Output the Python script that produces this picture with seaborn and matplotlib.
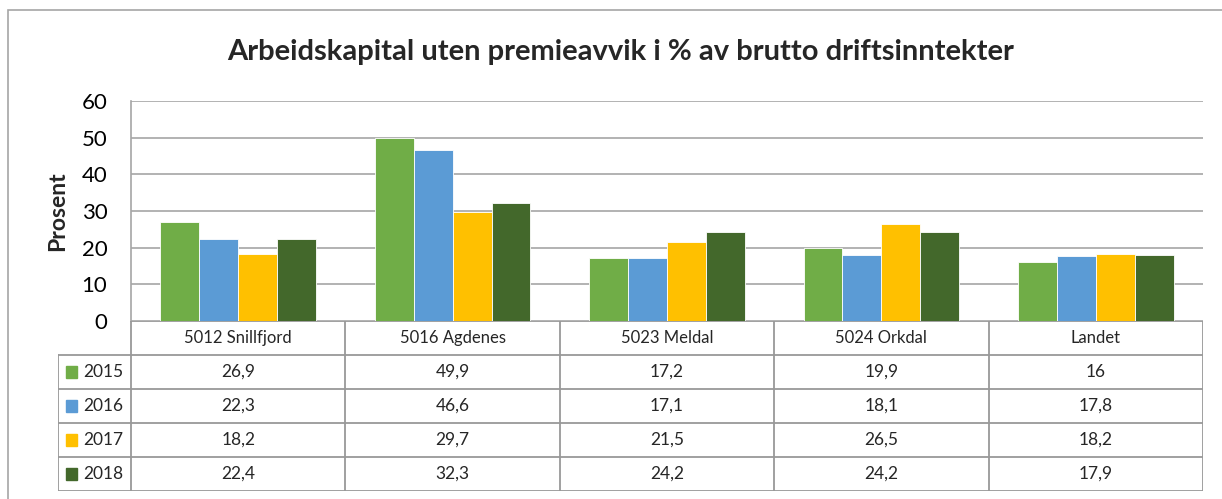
import pandas as pd
import seaborn as sns
import matplotlib.pyplot as plt
from matplotlib.patches import Rectangle

#%% data

kommuner = ['5012 Snillfjord', '5016 Agdenes', '5023 Meldal', '5024 Orkdal', 'Landet']
aar = ['2015', '2016', '2017', '2018']
v2015 = [26.9, 49.9, 17.2, 19.9, 16]
v2016 = [22.3, 46.6, 17.1, 18.1, 17.8]
v2017 = [18.2, 29.7, 21.5, 26.5, 18.2]
v2018 = [22.4, 32.3, 24.2, 24.2, 17.9]
farger = ['#70AD47', '#5B9BD5', '#FFC000', '#43682B']

verdier = [v2015, v2016, v2017, v2018]
rows = []
for a, vals in zip(aar, verdier):
    for k, v in zip(kommuner, vals):
        rows.append({'kommune': k, 'aar': a, 'prosent': v})
df = pd.DataFrame(rows)

#%% plot

sns.set_theme(style='white')
plt.rcParams['font.family'] = ['Lato', 'DejaVu Sans']

W, H = 1222, 499
grey = '#A6A6A6'
fig = plt.figure(figsize=(W / 100, H / 100), dpi=100)


def box(x0, y0, x1, y1):
    # pixel box -> figure fraction
    return [x0 / W, 1 - y1 / H, (x1 - x0) / W, (y1 - y0) / H]


ax = fig.add_axes(box(131, 101, 1203, 321))
sns.barplot(data=df, x='kommune', y='prosent', hue='aar', palette=farger,
            width=0.726, saturation=1, edgecolor='white', linewidth=0.6,
            legend=False, ax=ax)
ax.set_xlim(-0.5, 4.5)
ax.set_ylim(0, 60)
ax.set_yticks(range(0, 61, 10))
ax.set_xticks([])
ax.set_xlabel('')
ax.set_ylabel('')
ax.grid(axis='y', color=grey, lw=1.2)
ax.set_axisbelow(True)
for s in ['top', 'right', 'bottom']:
    ax.spines[s].set_visible(False)
ax.spines['left'].set_color(grey)
ax.spines['left'].set_linewidth(1.2)
ax.tick_params(axis='y', length=0, pad=17, labelsize=16, labelcolor='black')

fig.text(58 / W, 1 - 211 / H, 'Prosent', rotation=90, ha='center', va='center',
         fontsize=16.5, fontweight='bold')
fig.text(621 / W, 1 - 60 / H, 'Arbeidskapital uten premieavvik i % av brutto driftsinntekter',
         ha='center', va='baseline', fontsize=21, fontweight='bold')

# data table under the chart
unit = 1072 / 5
left = -0.5 - 73 / unit
tab = fig.add_axes(box(58, 321, 1203, 491))
tab.set_xlim(left, 4.5)
tab.set_ylim(5, 0)
tab.axis('off')
lc = '#999999'
tab.plot([-0.5, 4.5], [0, 0], color=lc, lw=1.3)
for r in range(1, 6):
    tab.plot([left, 4.5], [r, r], color=lc, lw=1.3)
for i in range(6):
    tab.plot([i - 0.5, i - 0.5], [0, 5], color=lc, lw=1.3)
tab.plot([left, left], [1, 5], color=lc, lw=1.3)

for i, k in enumerate(kommuner):
    tab.text(i, 0.5, k, ha='center', va='center', fontsize=12)
for r, (a, vals, c) in enumerate(zip(aar, verdier, farger)):
    y = r + 1.5
    tab.add_patch(Rectangle((left + 8 / unit, y - 0.18), 11 / unit, 0.36, color=c))
    tab.text(left + 25 / unit, y, a, ha='left', va='center', fontsize=12.5)
    for i, v in enumerate(vals):
        tab.text(i, y, f'{v:g}'.replace('.', ','), ha='center', va='center', fontsize=12.5)

# chart frame (cut off at right and bottom)
fig.add_artist(Rectangle((8 / W, -0.1), 1.5, 1 - 10 / H + 0.1, transform=fig.transFigure,
                         fill=False, edgecolor=grey, lw=1.2))

fig.savefig('out.png', dpi=100)
